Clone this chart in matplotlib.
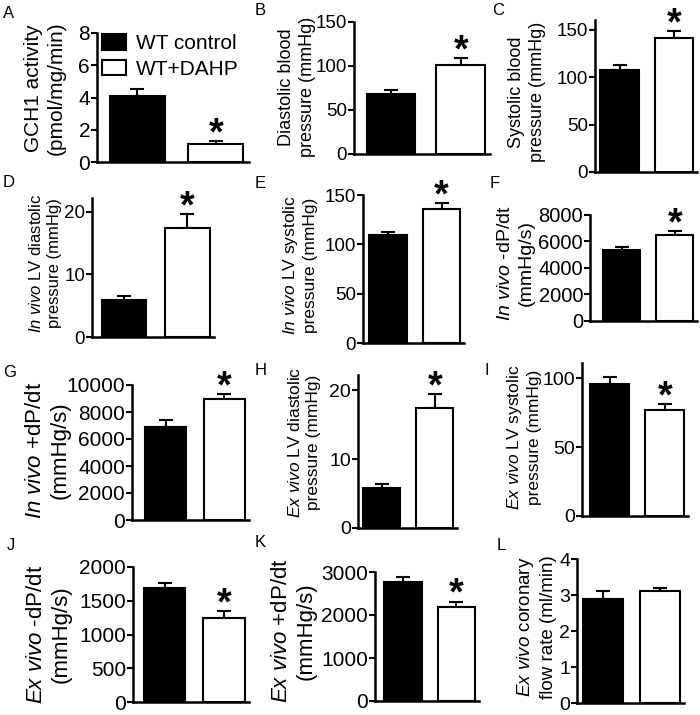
import matplotlib
matplotlib.use("Agg")
import matplotlib.pyplot as plt
from matplotlib.patches import Patch

plt.rcParams['font.family'] = ['Liberation Sans', 'DejaVu Sans']
plt.rcParams['mathtext.fontset'] = 'custom'
plt.rcParams['mathtext.rm'] = 'Liberation Sans'
plt.rcParams['mathtext.it'] = 'Liberation Sans:italic'

groups = ["WT control", "WT+DAHP"]

# values: mean and (upper) error for control / DAHP
gch1 = [4.1, 1.1]
gch1_err = [0.4, 0.2]
dia_bp = [68, 101]
dia_bp_err = [5, 8]
sys_bp = [107, 141]
sys_bp_err = [6, 7]
iv_lvdp = [5.9, 17.4]
iv_lvdp_err = [0.6, 2.2]
iv_lvsp = [109, 136]
iv_lvsp_err = [3, 6]
iv_neg = [5350, 6490]
iv_neg_err = [250, 300]
iv_pos = [6910, 8940]
iv_pos_err = [500, 400]
ev_lvdp = [5.8, 17.4]
ev_lvdp_err = [0.6, 2.0]
ev_lvsp = [96, 77]
ev_lvsp_err = [5, 4]
ev_neg = [1690, 1250]
ev_neg_err = [80, 100]
ev_pos = [2770, 2190]
ev_pos_err = [110, 120]
ev_flow = [2.9, 3.1]
ev_flow_err = [0.2, 0.1]
signif = [True, True, True, True, True, True, True, True, True, True, True, False]

letters = list("ABCDEFGHIJKL")
ylabels = [
    "GCH1 activity\n(pmol/mg/min)",
    "Diastolic blood\npressure (mmHg)",
    "Systolic blood\npressure (mmHg)",
    r"$\it{In\ vivo}$ LV diastolic" + "\npressure (mmHg)",
    r"$\it{In\ vivo}$ LV systolic" + "\npressure (mmHg)",
    r"$\it{In\ vivo}$ -dP/dt" + "\n(mmHg/s)",
    r"$\it{In\ vivo}$ +dP/dt" + "\n(mmHg/s)",
    r"$\it{Ex\ vivo}$ LV diastolic" + "\npressure (mmHg)",
    r"$\it{Ex\ vivo}$ LV systolic" + "\npressure (mmHg)",
    r"$\it{Ex\ vivo}$ -dP/dt" + "\n(mmHg/s)",
    r"$\it{Ex\ vivo}$ +dP/dt" + "\n(mmHg/s)",
    r"$\it{Ex\ vivo}$ coronary" + "\nflow rate (ml/min)",
]
means = [gch1, dia_bp, sys_bp, iv_lvdp, iv_lvsp, iv_neg, iv_pos,
         ev_lvdp, ev_lvsp, ev_neg, ev_pos, ev_flow]
errs = [gch1_err, dia_bp_err, sys_bp_err, iv_lvdp_err, iv_lvsp_err, iv_neg_err,
        iv_pos_err, ev_lvdp_err, ev_lvsp_err, ev_neg_err, ev_pos_err, ev_flow_err]
yticks = [
    [0, 2, 4, 6, 8], [0, 50, 100, 150], [0, 50, 100, 150], [0, 10, 20],
    [0, 50, 100, 150], [0, 2000, 4000, 6000, 8000],
    [0, 2000, 4000, 6000, 8000, 10000], [0, 10, 20], [0, 50, 100],
    [0, 500, 1000, 1500, 2000], [0, 1000, 2000, 3000], [0, 1, 2, 3, 4],
]
ytop = [8, 150, 160, 22.2, 150, 8000, 10000, 22.2, 111, 2000, 3000, 4]

# layout in pixels: axis left, axis right, y of zero, y of top
boxes = [
    (97, 249, 162, 33), (354, 490, 154, 22), (595, 697, 172, 20),
    (92, 214, 337, 198), (363, 464, 343, 195), (590, 697, 321, 215),
    (132, 249, 520, 385), (358, 457, 528, 375), (582, 688, 516, 363),
    (133, 249, 702, 567), (375, 479, 701, 572), (577, 684, 703, 559),
]
xlefts = [-0.51, -0.53, -0.45, -0.51, -0.47, -0.6, -0.58, -0.45, -0.5, -0.53, -0.52, -0.46]
label_pos = [(45, 88), (297, 87), (527, 92), (45, 263), (299, 265), (516, 263),
             (48, 450), (304, 442), (523, 437), (49, 634), (294, 631), (536, 627)]
letter_pos = [(3, 18), (255, 15), (492, 15), (3, 187), (255, 188), (490, 188),
              (3, 377), (255, 375), (485, 375), (7, 550), (255, 547), (497, 550)]
label_fs = [15, 13, 13, 12, 12.5, 14, 16, 12.5, 12.5, 16, 16, 13.5]
tick_fs = [15, 13.5, 13.5, 13.5, 13.5, 14.5, 15, 14, 14, 15, 15, 14]

W, H = 700, 715
fig = plt.figure(figsize=(7, 7.15), dpi=100)

for i in range(12):
    l, r, y0, yt = boxes[i]
    ax = fig.add_axes([l / W, 1 - y0 / H, (r - l) / W, (y0 - yt) / H])
    x = [0, 1]
    ax.bar(x, means[i], width=0.7, color=["black", "white"], edgecolor="black",
           linewidth=1.5, zorder=3)
    ax.errorbar(x, means[i], yerr=[[0, 0], errs[i]], fmt="none", ecolor="black",
                elinewidth=1.5, capsize=5, capthick=1.5, zorder=2)
    ax.set_xlim(xlefts[i], 1.42)
    ax.set_ylim(0, ytop[i])
    ax.set_yticks(yticks[i])
    ax.tick_params(axis="y", labelsize=tick_fs[i], width=1.5, length=4, pad=1)
    ax.tick_params(axis="x", bottom=False, labelbottom=False)
    for s in ["top", "right"]:
        ax.spines[s].set_visible(False)
    for s in ["left", "bottom"]:
        ax.spines[s].set_linewidth(1.8)
    if signif[i]:
        ax.annotate("*", (1, means[i][1] + errs[i][1]), xytext=(0, -8),
                    textcoords="offset points", ha="center", va="bottom",
                    fontsize=27, fontweight="bold")
    fig.text(label_pos[i][0] / W, 1 - label_pos[i][1] / H, ylabels[i],
             rotation=90, ha="center", va="center", multialignment="center",
             fontsize=label_fs[i], linespacing=1.25)
    fig.text(letter_pos[i][0] / W, 1 - letter_pos[i][1] / H, letters[i],
             fontsize=12, ha="left", va="baseline")
    if i == 0:
        handles = [Patch(facecolor="black", edgecolor="black", linewidth=1.5),
                   Patch(facecolor="white", edgecolor="black", linewidth=1.5)]
        ax.legend(handles, groups, loc="upper left", bbox_to_anchor=(0.03, 0.99),
                  frameon=False, fontsize=15, handlelength=1.15, handleheight=0.75,
                  handletextpad=0.5, labelspacing=0.3, borderpad=0, borderaxespad=0)

fig.savefig("out.png", dpi=100)
